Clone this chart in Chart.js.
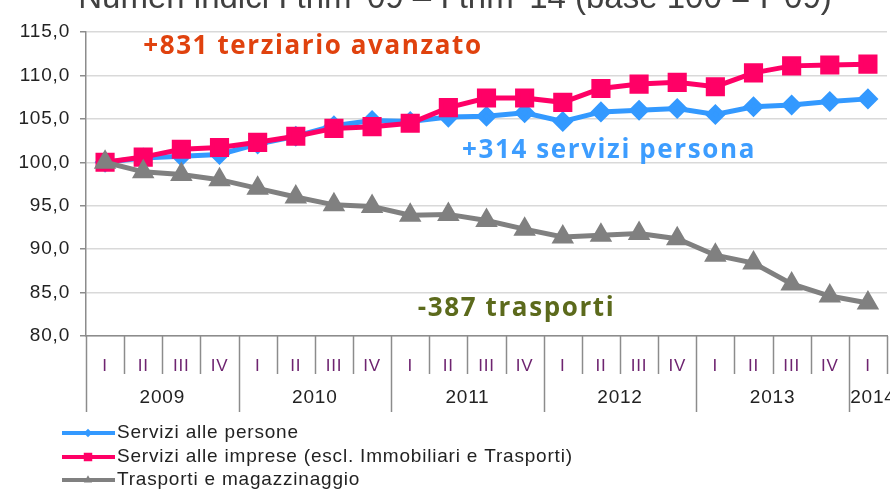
<!DOCTYPE html>
<html>
<head>
<meta charset="utf-8">
<script src="https://cdn.jsdelivr.net/npm/chart.js@4/dist/chart.umd.min.js"></script>
<style>
  html, body { margin: 0; padding: 0; background: #fff; }
  #wrap { position: relative; width: 890px; height: 490px; }
</style>
</head>
<body>
<div id="wrap"><canvas id="chart" width="890" height="490"></canvas></div>
<script>
// quarters 2009 I .. 2014 I
const quarters = ['I','II','III','IV','I','II','III','IV','I','II','III','IV','I','II','III','IV','I','II','III','IV','I'];
const years = ['2009','2010','2011','2012','2013','2014'];
const yTicks = [80, 85, 90, 95, 100, 105, 110, 115];

const persone = [100.0,100.5,100.7,100.9,102.1,103.0,104.2,104.8,104.7,105.2,105.3,105.7,104.7,105.8,106.0,106.2,105.5,106.4,106.6,107.0,107.3];
const imprese = [100.0,100.6,101.5,101.7,102.3,103.0,103.9,104.1,104.5,106.3,107.4,107.4,106.9,108.5,109.0,109.2,108.7,110.3,111.1,111.2,111.3];
const trasporti = [100.0,98.9,98.6,98.0,97.0,96.0,95.1,94.9,93.9,94.0,93.3,92.3,91.4,91.6,91.8,91.2,89.3,88.4,86.0,84.6,83.8];

const seriesNames = ['Servizi alle persone','Servizi alle imprese (escl. Immobiliari e Trasporti)','Trasporti e magazzinaggio'];

// annotation texts, anchored at (category index, value)
const notes = ['+831 terziario avanzato','+314 servizi persona','-387 trasporti'];
const noteX = [1.0, 9.36, 8.2];
const noteY = [113.3, 101.4, 83.2];
const noteColor = ['#e0420e','#3d9dff','#5c6a1c'];

const titleText = "Numeri indici I trim '09 \u2013 I trim '14 (base 100 = I '09)";
const FONT = '"Liberation Sans", Arial, sans-serif';

const decor = {
  id: 'decor',
  beforeDraw(chart) { chart.ctx.letterSpacing = '0.8px'; },
  afterDraw(chart) {
    const ctx = chart.ctx, x = chart.scales.x, a = chart.chartArea;
    const step = x.getPixelForValue(1) - x.getPixelForValue(0);
    ctx.save();
    ctx.letterSpacing = '0px';
    // title (clipped at top like the original)
    ctx.fillStyle = '#404040';
    ctx.font = '33px ' + FONT;
    ctx.textAlign = 'center';
    ctx.textBaseline = 'alphabetic';
    ctx.fillText(titleText, 455, 8);

    // x separators
    ctx.strokeStyle = '#8c8c8c';
    ctx.lineWidth = 1.5;
    for (let i = 0; i <= quarters.length; i++) {
      const px = Math.round(x.getPixelForValue(i) - step / 2) + 0.5;
      const isYear = i % 4 === 0 && i < quarters.length;
      ctx.beginPath();
      ctx.moveTo(px, a.bottom);
      ctx.lineTo(px, a.bottom + (isYear ? 76 : 38));
      ctx.stroke();
    }
    // year labels
    ctx.letterSpacing = '0.8px';
    ctx.fillStyle = '#222';
    ctx.font = '19px ' + FONT;
    ctx.textBaseline = 'middle';
    years.forEach((y, k) => {
      const first = k * 4, last = Math.min(k * 4 + 3, quarters.length - 1);
      const cx = (x.getPixelForValue(first) + x.getPixelForValue(last)) / 2;
      ctx.fillText(y, k === years.length - 1 ? cx + 5 : cx, a.bottom + 62);
    });

    // legend
    const ly = [433, 457, 480];
    chart.data.datasets.forEach((ds, k) => {
      ctx.strokeStyle = ds.borderColor;
      ctx.lineWidth = 4;
      ctx.beginPath();
      ctx.moveTo(62, ly[k]);
      ctx.lineTo(115, ly[k]);
      ctx.stroke();
      ctx.fillStyle = ds.borderColor;
      Chart.helpers.drawPoint(ctx, {pointStyle: ds.pointStyle, radius: ds.pointRadius * 0.6, rotation: 0}, 88, ly[k]);
      ctx.fillStyle = '#222';
      ctx.textAlign = 'left';
      ctx.letterSpacing = '0.8px';
      ctx.font = '19px ' + FONT;
      ctx.fillText(ds.label, 117, ly[k]);
    });

    // annotations
    ctx.letterSpacing = '1.6px';
    ctx.font = 'bold 26px "Open Sans", Lato, sans-serif';
    ctx.textAlign = 'left';
    ctx.textBaseline = 'middle';
    notes.forEach((t, k) => {
      ctx.fillStyle = noteColor[k];
      ctx.fillText(t, x.getPixelForValue(noteX[k]), chart.scales.y.getPixelForValue(noteY[k]));
    });
    ctx.restore();
  }
};

new Chart(document.getElementById('chart'), {
  type: 'line',
  data: {
    labels: quarters,
    datasets: [
      {label: seriesNames[0], data: persone, borderColor: '#3399ff', backgroundColor: '#3399ff', borderWidth: 5, pointStyle: 'rectRot', pointRadius: 7, order: 3},
      {label: seriesNames[1], data: imprese, borderColor: '#ff0066', backgroundColor: '#ff0066', borderWidth: 5, pointStyle: 'rect', pointRadius: 10, order: 2},
      {label: seriesNames[2], data: trasporti, borderColor: '#808080', backgroundColor: '#808080', borderWidth: 5, pointStyle: 'triangle', pointRadius: 8, order: 1}
    ]
  },
  options: {
    responsive: false,
    animation: false,
    layout: {autoPadding: false, padding: {top: 32, right: 3, left: 0, bottom: 0}},
    plugins: {legend: {display: false}, tooltip: {enabled: false}},
    elements: {line: {tension: 0}, point: {borderWidth: 0}},
    scales: {
      x: {
        offset: true,
        grid: {display: false, offset: true},
        border: {color: '#8c8c8c', width: 1.5},
        ticks: {color: '#6e2470', font: {size: 17, family: FONT}, padding: 12, maxRotation: 0, autoSkip: false},
        afterFit: (s) => { s.height = 154; s.paddingLeft = 0; s.paddingRight = 0; }
      },
      y: {
        min: 80, max: 115,
        afterBuildTicks: (s) => { s.ticks = yTicks.map(v => ({value: v})); },
        grid: {color: '#d9d9d9', lineWidth: 1.5, tickColor: '#8c8c8c', tickLength: 6},
        border: {color: '#8c8c8c', width: 1.5},
        ticks: {color: '#222', font: {size: 19, family: FONT}, padding: 10,
          callback: (v) => v.toFixed(1).replace('.', ',')},
        afterFit: (s) => { s.width = 86; }
      }
    }
  },
  plugins: [decor]
});
</script>
</body>
</html>
